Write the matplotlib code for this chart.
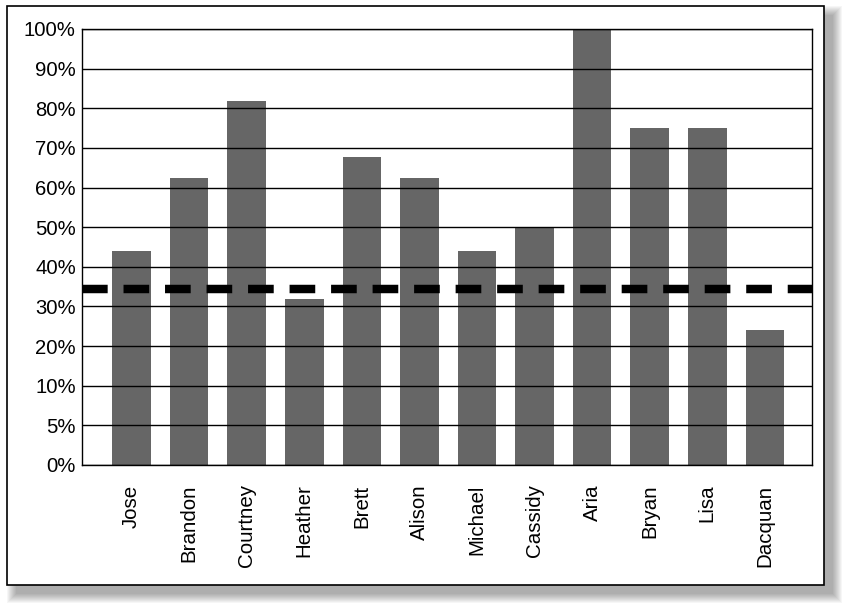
import numpy as np
import matplotlib
matplotlib.use("Agg")
import matplotlib.pyplot as plt
from matplotlib.patches import Rectangle

names = ["Jose", "Brandon", "Courtney", "Heather", "Brett", "Alison",
         "Michael", "Cassidy", "Aria", "Bryan", "Lisa", "Dacquan"]
values = [44, 62.5, 81.8, 31.8, 67.8, 62.5, 44, 50, 100, 75, 75, 24]
threshold = 34.5
tick_values = [0, 5, 10, 20, 30, 40, 50, 60, 70, 80, 90, 100]
tick_labels = ["0%", "5%", "10%", "20%", "30%", "40%", "50%", "60%",
               "70%", "80%", "90%", "100%"]

plt.rcParams['font.family'] = ['Liberation Sans', 'DejaVu Sans']

W, H = 844, 605
fig = plt.figure(figsize=(W / 100, H / 100), dpi=100)
fig.patch.set_facecolor('white')

def px_rect(x0, y0, x1, y1, **kw):
    # pixel coords (top-left origin) -> figure fraction
    return Rectangle((x0 / W, 1 - y1 / H), (x1 - x0) / W, (y1 - y0) / H,
                     transform=fig.transFigure, **kw)

# soft shadow
for k in range(10):
    grow = 10 - k
    fig.add_artist(px_rect(7 + 10 - grow, 6 + 10 - grow, 824 + 8 + grow, 585 + 8 + grow,
                           facecolor='#000000', edgecolor='none', alpha=0.035, zorder=-3))
# outer frame
fig.add_artist(px_rect(7, 6, 824, 585, facecolor='white', edgecolor='black',
                       linewidth=1.2, zorder=-2))

ax = fig.add_axes([82 / W, 1 - 465 / H, (812 - 82) / W, (465 - 29) / H])
ax.set_facecolor('white')

fwd = lambda v: np.interp(v, tick_values, np.arange(len(tick_values)))
inv = lambda p: np.interp(p, np.arange(len(tick_values)), tick_values)
ax.set_yscale('function', functions=(fwd, inv))
ax.set_ylim(0, 100)

x = np.arange(len(names))
ax.bar(x, values, width=0.67, color='#666666', zorder=1)
ax.set_xlim(-0.86, len(names) - 1 + 0.82)

ax.set_yticks(tick_values)
ax.set_yticklabels(tick_labels)
ax.set_xticks(x)
ax.set_xticklabels(names, rotation=90)
ax.tick_params(axis='y', length=0, pad=4.5, labelsize=14.6, colors='black')
ax.tick_params(axis='x', length=0, pad=14, labelsize=14.8, colors='black')
ax.yaxis.grid(True, color='black', linewidth=1.0)
ax.set_axisbelow(False)

for s in ax.spines.values():
    s.set_linewidth(1.0)
    s.set_color('black')

ax.axhline(threshold, color='black', linewidth=6.1, dashes=(3.03, 1.87), zorder=3)

fig.savefig("out.png", dpi=100)
